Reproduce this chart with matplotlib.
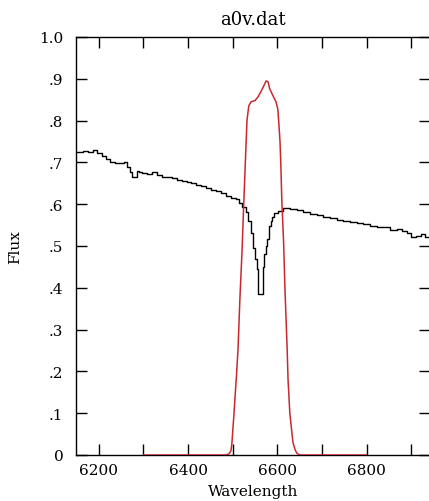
import matplotlib
matplotlib.use('Agg')
import matplotlib.pyplot as plt

# spectrum of a0v.dat (black, stepped)
wave = [6148.5, 6159.7, 6170.9, 6182.1, 6193.3, 6200.7, 6211.9, 6219.3, 6230.4, 6241.6,
        6252.8, 6260.4, 6267.8, 6273.0, 6277.5, 6282.8, 6286.4, 6294.0, 6301.4, 6312.6,
        6323.8, 6335.0, 6346.2, 6357.4, 6368.6, 6379.8, 6391.0, 6402.1, 6413.3, 6424.5,
        6435.7, 6446.9, 6458.1, 6469.3, 6480.5, 6491.7, 6502.9, 6510.3, 6517.9, 6525.3,
        6532.7, 6538, 6543, 6548, 6552, 6555, 6558, 6563, 6566, 6568, 6572, 6576, 6579,
        6583, 6587, 6590, 6596, 6605, 6620.9, 6635.6, 6650.6, 6665.6, 6680.4, 6695.4,
        6710.4, 6725.2, 6740.2, 6755.2, 6770.0, 6784.9, 6799.9, 6814.7, 6829.7, 6844.7,
        6859.5, 6874.5, 6885.7, 6893.1, 6904.3, 6915.5, 6926.7, 6934.3, 6939.4]
flux = [0.724, 0.726, 0.728, 0.726, 0.730, 0.722, 0.715, 0.708, 0.702, 0.699,
        0.699, 0.700, 0.688, 0.678, 0.666, 0.666, 0.679, 0.678, 0.674, 0.672,
        0.676, 0.670, 0.666, 0.664, 0.662, 0.659, 0.655, 0.652, 0.651, 0.646,
        0.644, 0.638, 0.635, 0.632, 0.627, 0.620, 0.616, 0.612, 0.604, 0.593,
        0.581, 0.560, 0.530, 0.495, 0.470, 0.445, 0.385, 0.385, 0.385, 0.450,
        0.480, 0.500, 0.517, 0.548, 0.560, 0.570, 0.580, 0.584, 0.591, 0.589,
        0.586, 0.581, 0.577, 0.575, 0.570, 0.566, 0.562, 0.559, 0.557, 0.554,
        0.553, 0.549, 0.546, 0.545, 0.538, 0.541, 0.537, 0.530, 0.521, 0.525,
        0.529, 0.522, 0.521]

# filter transmission (red)
filt_wave = [6300, 6485, 6492, 6496, 6498, 6501, 6503, 6505, 6508.5, 6512, 6516, 6521,
             6524, 6528, 6532, 6536, 6541, 6550, 6557, 6566, 6575, 6579, 6583, 6590, 6597,
             6601, 6603, 6606, 6608, 6610, 6614, 6617, 6622, 6624, 6628, 6635, 6640, 6644,
             6651, 6800]
filt_val = [0.0, 0.0, 0.003, 0.01, 0.025, 0.07, 0.10, 0.135, 0.19, 0.254, 0.37, 0.49,
            0.58, 0.69, 0.80, 0.835, 0.845, 0.848, 0.857, 0.875, 0.895, 0.893, 0.876,
            0.86, 0.845, 0.828, 0.80, 0.75, 0.69, 0.61, 0.51, 0.40, 0.254, 0.18, 0.10,
            0.03, 0.012, 0.004, 0.0, 0.0]

x_ticks = [6200, 6300, 6400, 6500, 6600, 6700, 6800, 6900]
x_labels = ['6200', '', '6400', '', '6600', '', '6800', '']
y_ticks = [0, 0.1, 0.2, 0.3, 0.4, 0.5, 0.6, 0.7, 0.8, 0.9, 1.0]
y_labels = ['0', '.1', '.2', '.3', '.4', '.5', '.6', '.7', '.8', '.9', '1.0']

plt.rcParams['font.family'] = ['DejaVu Serif']

fig = plt.figure(figsize=(4.29, 5.02), dpi=100)
ax = fig.add_axes([76 / 429, 46 / 502, 354 / 429, 418 / 502])

ax.plot(wave, flux, color='black', lw=1.0, drawstyle='steps-mid', zorder=2)
ax.plot(filt_wave, filt_val, color='#c8282e', lw=1.1, zorder=3)

ax.set_xlim(6149, 6942)
ax.set_ylim(0, 1.0)
ax.set_axisbelow(True)
ax.set_xticks(x_ticks)
ax.set_xticklabels(x_labels)
ax.set_yticks(y_ticks)
ax.set_yticklabels(y_labels)
ax.tick_params(direction='in', length=7.7, width=1.0, top=True, right=True,
               labelsize=11, colors='black')
ax.tick_params(axis='x', pad=6)
ax.tick_params(axis='y', pad=9)
for sp in ax.spines.values():
    sp.set_linewidth(1.0)
    sp.set_zorder(2.5)

ax.set_title('a0v.dat', fontsize=13, pad=9)
ax.set_xlabel('Wavelength', fontsize=11, labelpad=5)
ax.set_ylabel('Flux', fontsize=11, labelpad=12)

fig.savefig('out.png', dpi=100)
